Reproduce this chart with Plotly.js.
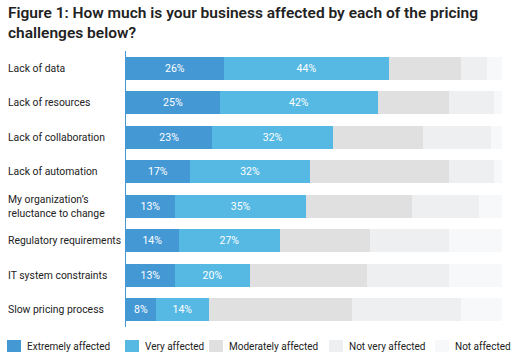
<!DOCTYPE html>
<html><head><meta charset="utf-8">
<script src="https://cdn.plot.ly/plotly-3.0.1.min.js"></script>
<style>html,body{margin:0;padding:0;background:#fff}#c{width:524px;height:361px}</style>
</head><body><div id="c"></div>
<script>
const categories = ["Lack of data","Lack of resources","Lack of collaboration","Lack of automation","My organization’s<br>reluctance to change","Regulatory requirements","IT system constraints","Slow pricing process"];
const seriesNames = ["Extremely affected","Very affected","Moderately affected","Not very affected","Not affected"];
const extremely = [26,25,23,17,13,14,13,8];
const very = [44,42,32,32,35,27,20,14];
const moderately = [19,19,24,37,28,24,31,38];
const notVery = [7,12,18,12,18,21,22,29];
const notAffected = [4,2,3,2,6,14,14,11];
const colors = ["#4499d5","#55b9e3","#e0e0e0","#eeeff0","#f7f8fa"];
const allValues = [extremely, very, moderately, notVery, notAffected];

const W = 524, H = 361, L = 126, R = 22, T = 51, B = 34;
const pw = W - L - R, ph = H - T - B;
const px2x = p => (p - L) / pw;
const py2y = p => (H - B - p) / ph;

const traces = allValues.map((vals, i) => ({
  type: "bar", orientation: "h", name: seriesNames[i],
  y: categories, x: vals,
  marker: {color: colors[i], line: {width: 0}},
  text: i < 2 ? vals.map(v => v + "%") : vals.map(() => ""),
  textposition: i < 2 ? "inside" : "none",
  insidetextanchor: "middle",
  textfont: {color: "#ffffff", size: 10.5, family: "Roboto, sans-serif"},
  hoverinfo: "none", showlegend: false
}));

const annotations = categories.map(c => ({
  xref: "paper", yref: "y", x: 0, y: c, xshift: -120, xanchor: "left", yanchor: "middle",
  text: c, align: "left", showarrow: false,
  font: {size: 10.4, family: "Roboto, sans-serif", color: "#222"}
}));

// manual legend
const legendX = [7, 125, 209, 329, 435];
const shapes = [];
seriesNames.forEach((n, i) => {
  shapes.push({type: "rect", xref: "paper", yref: "paper",
    x0: px2x(legendX[i]), x1: px2x(legendX[i] + 14), y0: py2y(352), y1: py2y(340),
    fillcolor: colors[i], line: {width: 0}});
  annotations.push({xref: "paper", yref: "paper", x: px2x(legendX[i] + 18), y: py2y(346),
    xanchor: "left", yanchor: "middle", text: n, showarrow: false,
    font: {size: 10, family: "Roboto, sans-serif", color: "#222"}});
});

const layout = {
  width: W, height: H,
  margin: {l: L, r: R, t: T, b: B},
  barmode: "stack", bargap: 0.33,
  showlegend: false,
  title: {text: "Figure 1: How much is your business affected by each of the pricing<br>challenges below?",
    x: 8 / W, xanchor: "left", xref: "container", y: 1 - 18 / H, yanchor: "top", yref: "container",
    font: {size: 15.5, family: "Roboto, sans-serif", color: "#222", weight: 600}},
  xaxis: {range: [0, 100], showgrid: false, zeroline: false, showticklabels: false, ticks: "", fixedrange: true},
  yaxis: {autorange: "reversed", showgrid: false, zeroline: false, showline: true, linecolor: "#4499d5", linewidth: 1.5,
    ticks: "", showticklabels: false},
  annotations: annotations, shapes: shapes,
  paper_bgcolor: "#fff", plot_bgcolor: "#fff"
};
Plotly.newPlot("c", traces, layout, {staticPlot: true, displayModeBar: false});
</script></body></html>
